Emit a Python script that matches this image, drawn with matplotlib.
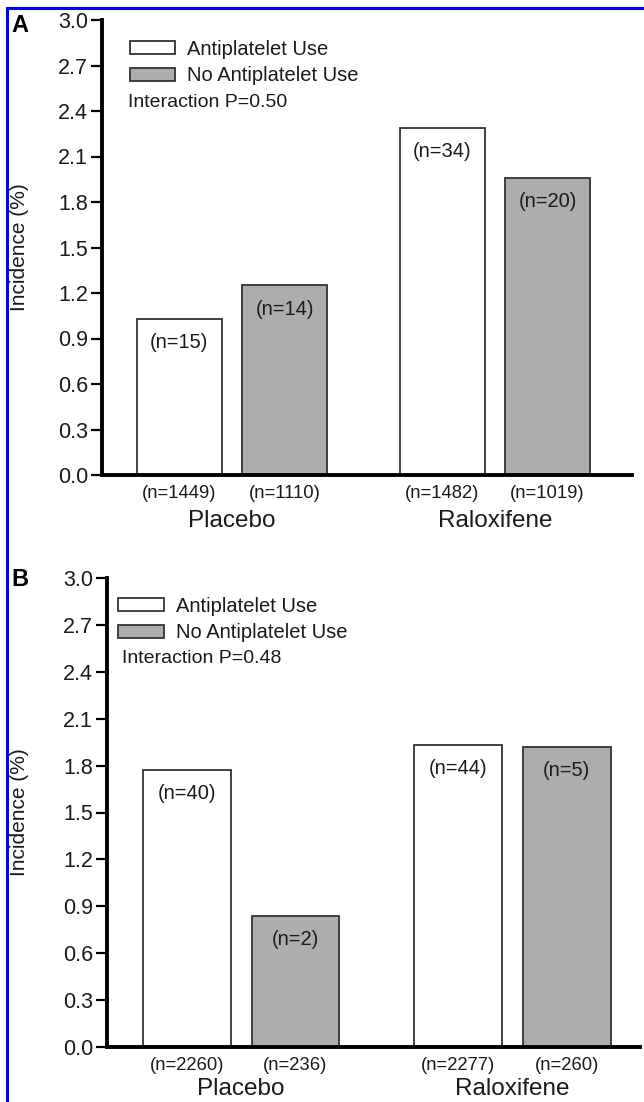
import matplotlib
matplotlib.use("Agg")
import matplotlib.pyplot as plt
from matplotlib.patches import Patch, Rectangle

plt.rcParams['font.family'] = ['Liberation Sans', 'DejaVu Sans']

# --- data ---
groups = ["Placebo", "Raloxifene"]
series = ["Antiplatelet Use", "No Antiplatelet Use"]

a_use = [1.03, 2.29]
a_nouse = [1.25, 1.96]
a_n_events_use = ["(n=15)", "(n=34)"]
a_n_events_nouse = ["(n=14)", "(n=20)"]
a_n_total_use = ["(n=1449)", "(n=1482)"]
a_n_total_nouse = ["(n=1110)", "(n=1019)"]
a_p = "Interaction P=0.50"

b_use = [1.77, 1.93]
b_nouse = [0.84, 1.92]
b_n_events_use = ["(n=40)", "(n=44)"]
b_n_events_nouse = ["(n=2)", "(n=5)"]
b_n_total_use = ["(n=2260)", "(n=2277)"]
b_n_total_nouse = ["(n=236)", "(n=260)"]
b_p = "Interaction P=0.48"

yticks = [0.0, 0.3, 0.6, 0.9, 1.2, 1.5, 1.8, 2.1, 2.4, 2.7, 3.0]

GRAY = "#adadad"
EDGE = "#333333"
TXT = "#1a1a1a"


def draw_panel(ax, use, nouse, ev_use, ev_nouse, tot_use, tot_nouse, ptext,
               xmax, leg_xy, p_xy, grp_off):
    width = 0.323
    off = 0.2
    xs = list(range(len(groups)))
    x_use = [x - off for x in xs]
    x_nouse = [x + off for x in xs]

    ax.bar(x_use, use, width, color="white", edgecolor=EDGE, linewidth=1.3, zorder=2)
    ax.bar(x_nouse, nouse, width, color=GRAY, edgecolor=EDGE, linewidth=1.3, zorder=2)

    # event counts inside the bars
    for x, v, t in zip(x_use + x_nouse, use + nouse, ev_use + ev_nouse):
        ax.annotate(t, (x, v), xytext=(0, -17), textcoords="offset points",
                    ha="center", va="center", fontsize=14.5, color=TXT)

    # totals under the bars and group names
    ax.set_xticks(x_use + x_nouse)
    ax.set_xticklabels(tot_use + tot_nouse, fontsize=13.3, color=TXT)
    ax.tick_params(axis="x", length=0, pad=7)
    for x, g in zip(xs, groups):
        ax.annotate(g, (x, 0), xytext=(0, grp_off), textcoords="offset points",
                    ha="center", va="center", fontsize=17.5, color=TXT,
                    annotation_clip=False)

    ax.set_xlim(-0.494, xmax)
    ax.set_ylim(0, 3.0)
    ax.set_yticks(yticks)
    ax.set_yticklabels(["%.1f" % t for t in yticks], fontsize=15.5, color=TXT)
    ax.tick_params(axis="y", length=8, width=1.6, pad=2, color="black")
    ax.set_ylabel("Incidence (%)", fontsize=15, color=TXT)

    for s in ["top", "right"]:
        ax.spines[s].set_visible(False)
    ax.spines["left"].set_linewidth(2.8)
    ax.spines["bottom"].set_linewidth(2.8)

    handles = [Patch(facecolor="white", edgecolor=EDGE, linewidth=1.3),
               Patch(facecolor=GRAY, edgecolor=EDGE, linewidth=1.3)]
    leg = ax.legend(handles, series, loc="upper left", bbox_to_anchor=leg_xy,
                    frameon=False, fontsize=14.5, handlelength=2.25, handleheight=0.62,
                    handletextpad=0.6, labelspacing=0.38, borderpad=0, borderaxespad=0)
    for t in leg.get_texts():
        t.set_color(TXT)
    ax.text(p_xy[0], p_xy[1], ptext, transform=ax.transAxes, fontsize=14,
            color=TXT, ha="left", va="center")


fig = plt.figure(figsize=(6.44, 11.02), dpi=100)
W, H = 644.0, 1102.0

ax_a = fig.add_axes([102 / W, 1 - 475 / H, 530 / W, 455 / H])
draw_panel(ax_a, a_use, a_nouse, a_n_events_use, a_n_events_nouse,
           a_n_total_use, a_n_total_nouse, a_p, 1.521, (0.053, 0.957), (0.049, 0.818), -33)
ax_a.yaxis.set_label_coords(-0.138, 0.5)

ax_b = fig.add_axes([107 / W, 1 - 1047 / H, 533 / W, 469 / H])
draw_panel(ax_b, b_use, b_nouse, b_n_events_use, b_n_events_nouse,
           b_n_total_use, b_n_total_nouse, b_p, 1.47, (0.021, 0.960), (0.028, 0.829), -30.5)
ax_b.yaxis.set_label_coords(-0.147, 0.5)

fig.text(11 / W, 1 - 26 / H, "A", fontsize=17, fontweight="bold", va="center", ha="left")
fig.text(11 / W, 1 - 580 / H, "B", fontsize=17, fontweight="bold", va="center", ha="left")

# blue frame on the left and top edges
fig.add_artist(Rectangle((6.5 / W, -0.05), 1.1, 1 - 7.5 / H + 0.05,
                         transform=fig.transFigure, fill=False,
                         edgecolor="#0000ff", linewidth=2.2))

fig.savefig("out.png", dpi=100)
